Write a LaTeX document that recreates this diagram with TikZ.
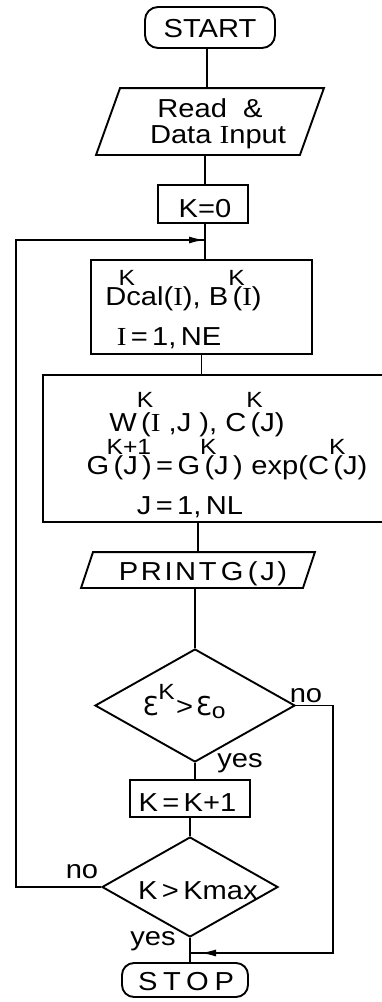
\documentclass[tikz,border=0pt]{standalone}
\usepackage{fontspec}
\setmainfont{Liberation Sans}[FakeStretch=1.12]
\newfontfamily\serI{Liberation Serif}[FakeStretch=1.12]
\newfontfamily\epsf{DejaVu Sans}
\newfontfamily\spcA{Liberation Sans}[FakeStretch=1.12,LetterSpace=10]
\newfontfamily\spcB{Liberation Sans}[FakeStretch=1.12,LetterSpace=22]
\usetikzlibrary{shapes.geometric,arrows.meta}
\newcommand\fsz{\fontsize{26}{30}\selectfont}
\newcommand\supsz{\fontsize{22}{24}\selectfont}
% zero-width raised superscript, optional horizontal offset and raise
\newcommand\kup[3][0em]{\makebox[0pt][l]{\kern#1\raisebox{#2}{\supsz #3}}}
\newcommand\kupw[1]{\raisebox{0.6em}{\supsz #1}}
\newcommand\Iser{{\serI I}}
\begin{document}
\begin{tikzpicture}[x=1pt,y=-1pt,
  line width=1.9pt,
  box/.style={draw, rectangle, inner sep=0pt},
  term/.style={draw, rectangle, rounded corners=13pt, inner sep=0pt},
  frame/.style={rectangle, inner sep=0pt},
  dec/.style={draw, diamond, inner sep=0pt},
  txt/.style={inner sep=0pt, anchor=base, font=\fsz},
  arr/.style={-{Latex[length=16pt,width=7pt]}}]
\useasboundingbox (0,0) rectangle (382,1002);
\clip (0,0) rectangle (382,1002);

% shapes
\node[term, minimum width=130pt, minimum height=41pt] (start) at (210,27.5) {};
\node[frame, minimum width=226pt, minimum height=65pt] (read) at (210,121.5) {};
\draw ([xshift=24pt]read.north west) -- (read.north east) -- ([xshift=-24pt]read.south east) -- (read.south west) -- cycle;
\node[box, minimum width=90pt, minimum height=38pt] (k0) at (203,204) {};
\node[box, minimum width=221pt, minimum height=94pt] (dcal) at (201.5,307) {};
\node[box, minimum width=377pt, minimum height=147pt] (wbox) at (231.5,448.5) {};
\node[frame, minimum width=232pt, minimum height=34pt] (prt) at (198,570) {};
\draw ([xshift=12pt]prt.north west) -- (prt.north east) -- ([xshift=-12pt]prt.south east) -- (prt.south west) -- cycle;
\node[dec, minimum width=200pt, minimum height=113pt] (d1) at (195,705.5) {};
\node[box, minimum width=120pt, minimum height=37pt] (kk) at (190,798.5) {};
\node[dec, minimum width=176pt, minimum height=100pt] (d2) at (190,887) {};
\node[term, rounded corners=12pt, minimum width=126pt, minimum height=34pt] (stop) at (185,980) {};

% texts
\node[txt] (tstart) at (210,37) {START};
\node[txt] (tread1) at (210,117) {Read\ \ \&};
\node[txt] (tread2) at (218,143) {Data \Iser nput};
\node[txt] (tk0) at (205,217) {K=0};
\node[txt] (tdc1) at (183.5,305) {D\kup[-0.3em]{0.75em}{K}cal(\Iser), B\kup{0.75em}{K}\,(\Iser)};
\node[txt] (tdc2) at (169,345) {\Iser\,=\,1,\,NE};
\node[txt] (tw1) at (197,431) {W\kup{0.9em}{K}\,(\Iser\ ,J\ ),\ C\kup{0.9em}{K}\,(J)};
\node[txt] (tw2) at (227,474) {G\kup[-0.1em]{0.76em}{K+1}\,(J\,)\,=\,G\kup{0.76em}{K}\,(J\,)\,\,exp(C\kup{0.76em}{K}\,(J)};
\node[txt] (tw3) at (190,514) {J\,=\,1,\,NL};
\node[txt] (tprt) at (203,580) {\spcA PRINT\,G\,(J)};
\node[txt] (teps) at (184,715) {{\epsf Ɛ}\kupw{K}\hspace{0.05em}>\hspace{0.1em}{\epsf Ɛ}\raisebox{-0.15em}{\supsz o}};
\node[txt] (tkk) at (187.5,811) {K\,=\,K+1};
\node[txt] (tkm) at (198,899) {K\,>\,Kmax};
\node[txt] (tstop) at (186,990) {\spcB STOP};

% labels
\node[txt] (no1) at (306,702) {no};
\node[txt] (yes1) at (240,767) {yes};
\node[txt] (no2) at (82,878) {no};
\node[txt] (yes2) at (153,945) {yes};

% routing points
\coordinate (lp) at (205,240);
\coordinate (l1) at (16,887);
\coordinate (l2) at (16,240);
\coordinate (r1) at (333,705.5);
\coordinate (r2) at (333,953);
\coordinate (j2) at (190,953);
\coordinate (j2a) at (200,953);

% connectors
\draw ([xshift=-3pt]start.south) -- ([xshift=-3pt]start.south |- read.north);
\draw ([xshift=2pt]k0.north |- read.south) -- ([xshift=2pt]k0.north);
\draw ([xshift=2pt]k0.south) -- ([xshift=2pt]k0.south |- dcal.north);
\draw (dcal.south) -- (dcal.south |- wbox.north);
\draw (prt.north |- wbox.south) -- (prt.north);
\draw (d1.north |- prt.south) -- (d1.north);
\draw (d1.south) -- (d1.south |- kk.north);
\draw (d2.north |- kk.south) -- (d2.north);
\draw (d2.south) -- (d2.south |- stop.north);
\draw (d1.east) -- (r1) -- (r2) -- (j2);
\draw[arr] (r2) -- (j2a);
\draw (d2.west) -- (l1) -- (l2) -- (lp);
\draw[arr] (l2) -- (lp);
\end{tikzpicture}
\end{document}
